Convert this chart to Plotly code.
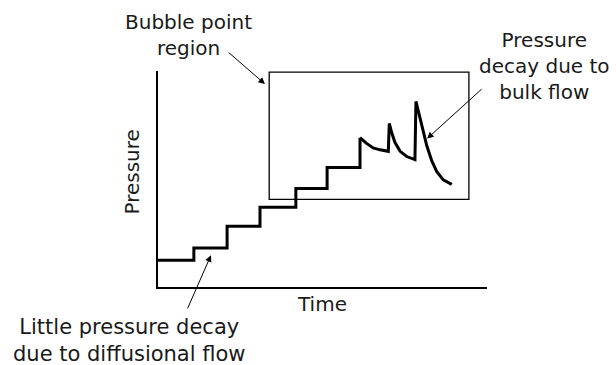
import plotly.graph_objects as go

# staircase of pressure holds (arbitrary units)
step_time = [0, 1.09, 2.10, 3.10, 4.19, 5.14, 6.14]
step_pressure = [1.24, 1.80, 2.81, 3.69, 4.56, 5.53, 6.91]

# bubble point region: pressure jumps followed by decay
decay_time = [6.14, 6.34, 6.54, 6.75, 7.00, 7.03, 7.10, 7.20, 7.36, 7.56, 7.81,
              7.84, 7.96, 8.06, 8.17, 8.32, 8.47, 8.67, 8.93]
decay_pressure = [6.91, 6.65, 6.44, 6.35, 6.28, 7.57, 7.16, 6.70, 6.28, 6.04, 5.90,
                  8.59, 7.85, 7.16, 6.54, 5.85, 5.35, 4.96, 4.75]

fig = go.Figure()
fig.add_trace(go.Scatter(x=step_time, y=step_pressure,
                         mode='lines',
                         line=dict(color='black', width=3, shape='hv'),
                         showlegend=False))

fig.add_trace(go.Scatter(x=decay_time, y=decay_pressure,
                         mode='lines',
                         line=dict(color='black', width=3),
                         showlegend=False))

# bubble point box
fig.add_shape(type='rect', x0=3.38, x1=9.45, y0=4.06, y1=9.95,
              line=dict(color='black', width=1.3))

arrows = [
    ((2.10, 10.92), (3.25, 9.40)),
    ((9.88, 9.22), (8.18, 6.87)),
    ((0.88, -1.06), (1.61, 1.47)),
]
for tail, head in arrows:
    fig.add_annotation(x=head[0], y=head[1], ax=tail[0], ay=tail[1],
                       xref='x', yref='y', axref='x', ayref='y',
                       text='', showarrow=True,
                       arrowhead=2, arrowsize=1.3, arrowwidth=1,
                       arrowcolor='black', standoff=0)

# labels placed in paper units (plot area spans 0..1)
labels = [
    ('Bubble point<br>region', 0.094, 1.166, 0, 20),
    ('Pressure<br>decay due to<br>bulk flow', 1.176, 1.021, 0, 20),
    ('Little pressure decay<br>due to diffusional flow', -0.088, -0.248, 0, 21),
    ('Time', 0.498, -0.078, 0, 20),
    ('Pressure', -0.079, 0.530, -90, 20),
]
for text, x, y, angle, size in labels:
    fig.add_annotation(x=x, y=y, xref='paper', yref='paper', text=text,
                       showarrow=False, textangle=angle,
                       xanchor='center', yanchor='middle',
                       font=dict(family='DejaVu Sans', size=size, color='#1a1a1a'))

fig.update_layout(width=616, height=365, autosize=False,
                  margin=dict(l=158, r=129, t=71, b=78),
                  paper_bgcolor='white', plot_bgcolor='white')

fig.update_xaxes(range=[0, 10], showline=True, linecolor='black', linewidth=1.6,
                 showgrid=False, zeroline=False, showticklabels=False, ticks='')
fig.update_yaxes(range=[0, 10], showline=True, linecolor='black', linewidth=1.6,
                 showgrid=False, zeroline=False, showticklabels=False, ticks='')

# drop the default page margin so the figure fills the window exactly
fig.write_html('out.html',
               config={'displayModeBar': False},
               post_script="document.body.style.margin='0';"
                           "document.body.style.overflow='hidden';")
